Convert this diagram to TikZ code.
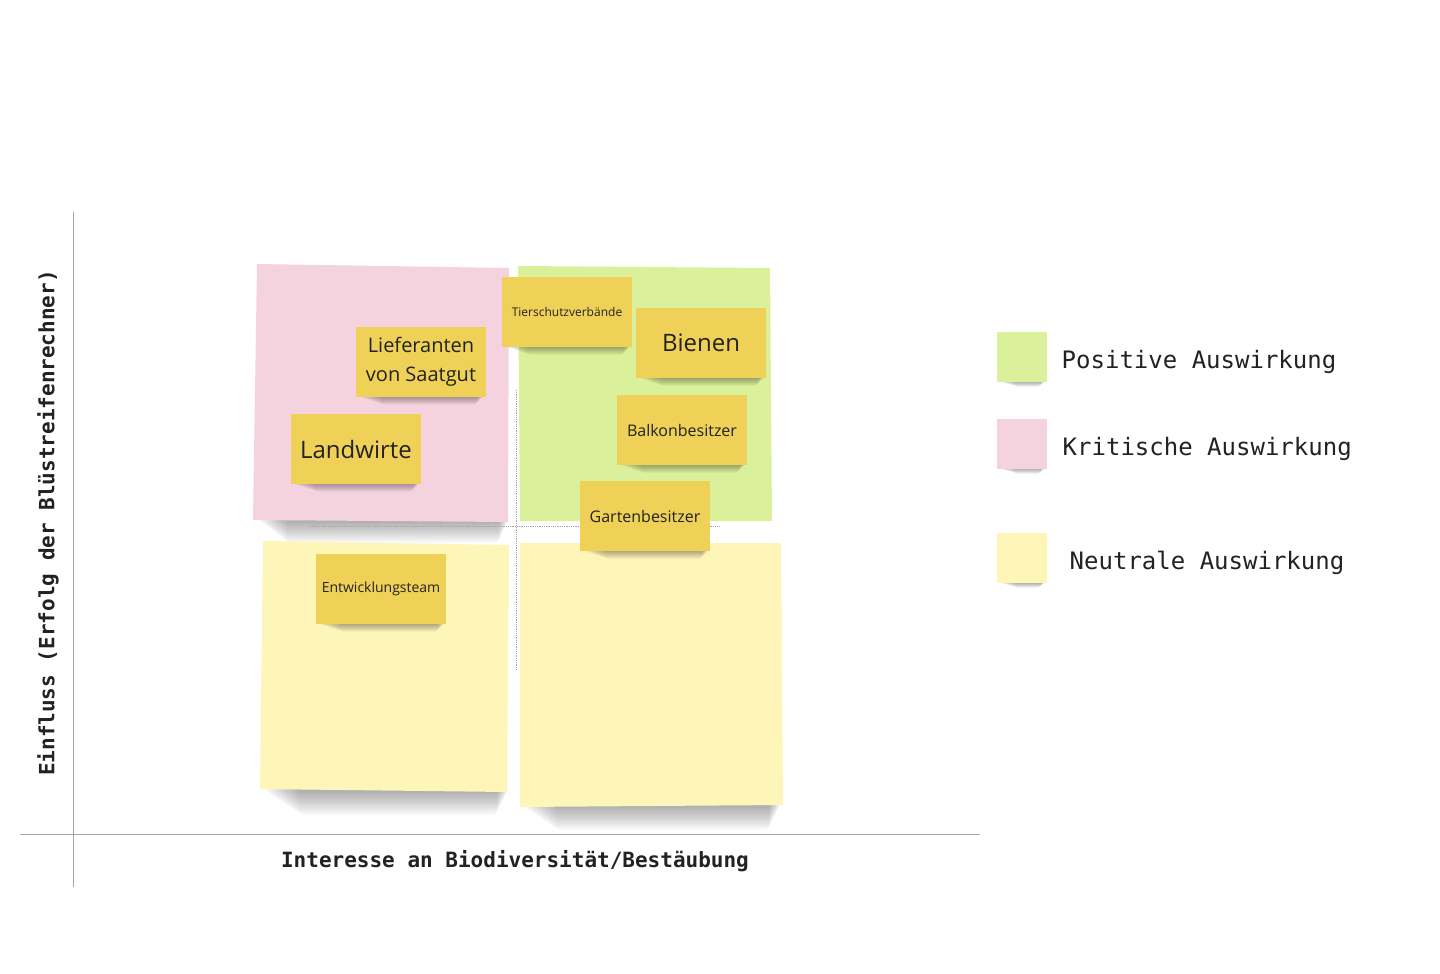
\documentclass[tikz,border=0pt]{standalone}
\usepackage{fontspec}
\setmainfont{Open Sans}
\setmonofont{DejaVu Sans Mono}
\usepackage{tikz}
\usetikzlibrary{calc}
\usetikzlibrary{positioning}
\usepackage{color}
\definecolor{blush}{RGB}{245, 211, 222}
\definecolor{lime}{RGB}{219, 240, 155}
\definecolor{cream}{RGB}{254, 245, 185}
\definecolor{mustard}{RGB}{240, 209, 88}
\definecolor{ink}{RGB}{34, 34, 34}
\definecolor{rule}{RGB}{165, 165, 165}
\newcommand{\fs}[1]{\fontsize{#1}{1.2\dimexpr#1pt\relax}\selectfont}
% soft shadow under a note: left x, right x, bottom y, depth, inset step
\newcommand{\noteshadow}[5]{%
    \foreach \k in {1,...,14}{
        \fill[black, opacity=0.022, rounded corners=4pt]
            ({#1+#5*\k*6/14}, {#3-4}) rectangle ({#2-#5*\k*2/14}, {#3+#4*\k/14});
    }}

\begin{document}
\begin{tikzpicture}[x=1pt, y=-1pt,
    sticky/.style={fill=mustard, minimum width=130pt, minimum height=70pt, inner sep=2pt,
                   align=center, text=ink},
    square/.style={minimum size=50pt, inner sep=0pt},
    legend/.style={anchor=west, text=ink, font=\ttfamily\fs{24}, yshift=-5pt},
    axislabel/.style={text=ink, font=\ttfamily\bfseries\fs{21}}]
            \useasboundingbox[fill=white]                                 (0, 0) rectangle (1440, 974);
            % quadrants
            \noteshadow{257}{509}{521}{22}{5}
            \noteshadow{263}{509}{791}{24}{6}
            \noteshadow{520}{781}{806}{24}{6}
            \fill[blush] (257,264) -- (509,268) -- (508,522) -- (253,520) -- cycle;
            \fill[lime]  (518,266) -- (770,268) -- (772,521) -- (520,521) -- cycle;
            \fill[cream] (263,541) -- (509,545) -- (507,792) -- (260,789) -- cycle;
            \fill[cream] (520,543) -- (781,543) -- (783,805) -- (520,807) -- cycle;
            % crosshair
            \coordinate (cl) at (310,526);
            \coordinate (cr) at (720,526);
            \coordinate (ct) at (516,390);
            \coordinate (cb) at (516,670);
            \draw[rule, densely dotted, line width=0.8pt] (cl) -- (cr);
            \draw[rule, densely dotted, line width=0.8pt] (ct) -- (cb);
            % axes
            \coordinate (ytop)  at ( 73,212);
            \coordinate (ybot)  at ( 73,887);
            \coordinate (xleft) at ( 20,834);
            \coordinate (xright)at (980,834);
            \draw[rule, line width=0.8pt] (ytop) -- (ybot);
            \draw[rule, line width=0.8pt] (xleft) -- (xright);
            \node[axislabel]            (xlabel) at (515,861) {Interesse an Biodiversität/Bestäubung};
            \node[axislabel, rotate=90] (ylabel) at ( 48,523) {Einfluss (Erfolg der Blüstreifenrechner)};
            % stickies
            \noteshadow{357}{485}{397}{8}{4}
            \noteshadow{291}{421}{484}{8}{4}
            \noteshadow{503}{632}{347}{8}{4}
            \noteshadow{636}{766}{378}{8}{4}
            \noteshadow{617}{747}{465}{8}{4}
            \noteshadow{581}{710}{551}{8}{4}
            \noteshadow{316}{446}{624}{8}{4}
            \node[sticky, font=\fontsize{20}{29}\selectfont] (lieferanten) at (421,362) {\raisebox{-2.5pt}{Lieferanten}\\\raisebox{-2.5pt}{von Saatgut}};
            \node[sticky, font=\fs{24}] (landwirte)   at (356,449) {Landwirte};
            \node[sticky, font=\fs{12}] (tierschutz)  at (567,312) {Tierschutzverbände};
            \node[sticky, font=\fs{24}] (bienen)      at (701,343) {Bienen};
            \node[sticky, font=\fs{16}] (balkon)      at (682,430) {Balkonbesitzer};
            \node[sticky, font=\fs{16}] (garten)      at (645,516) {Gartenbesitzer};
            \node[sticky, font=\fs{14}] (entwicklung) at (381,589) {Entwicklungsteam};
            % legend
            \noteshadow{997}{1047}{382}{5}{3}
            \noteshadow{997}{1047}{469}{5}{3}
            \noteshadow{997}{1047}{583}{5}{3}
            \node[square, fill=lime]  (legpos)  at (1022,357) {};
            \node[square, fill=blush] (legkrit) at (1022,444) {};
            \node[square, fill=cream] (legneut) at (1022,558) {};
            \node[legend, right=11pt of legpos]  (txtpos)  {Positive Auswirkung};
            \node[legend, right=12pt of legkrit] (txtkrit) {Kritische Auswirkung};
            \node[legend, right=19pt of legneut] (txtneut) {Neutrale Auswirkung};
\end{tikzpicture}
\end{document}
